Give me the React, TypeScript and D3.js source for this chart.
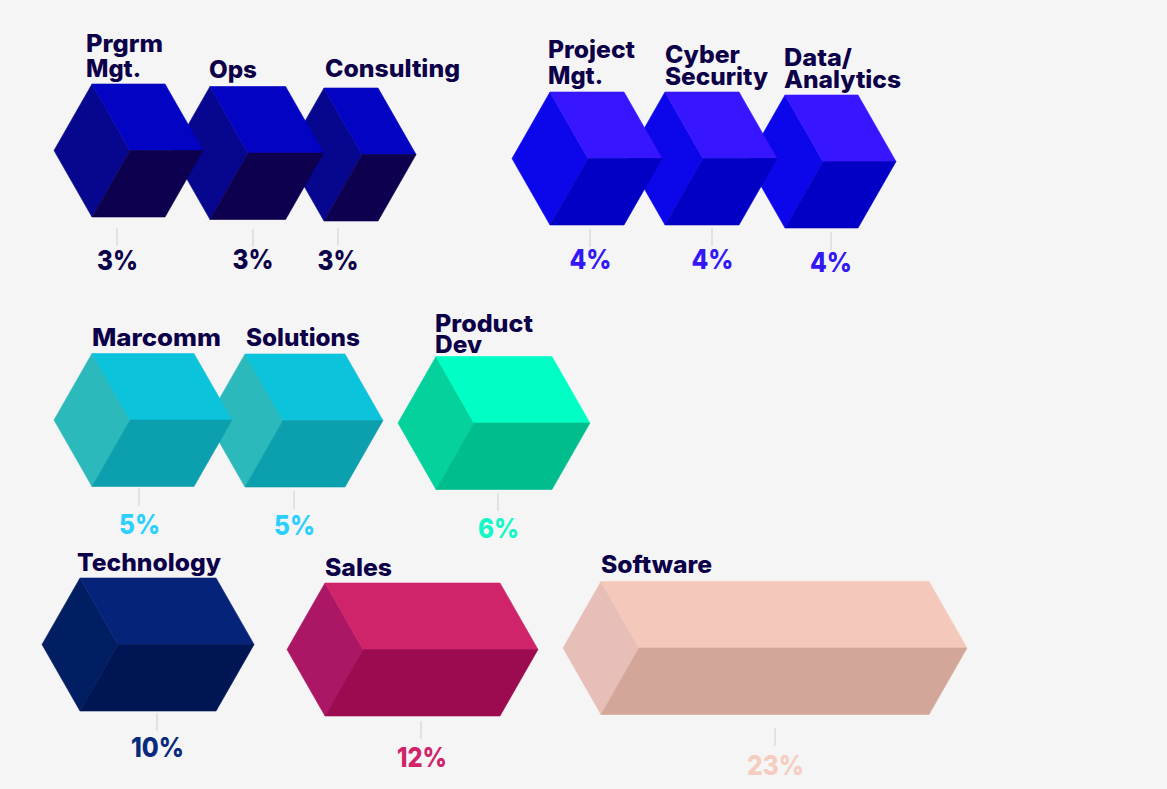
import React from "react";
import * as d3 from "d3";

// ---- data ----
const categories = ["Prgrm Mgt.", "Ops", "Consulting", "Project Mgt.", "Cyber Security", "Data/ Analytics", "Marcomm", "Solutions", "Product Dev", "Technology", "Sales", "Software"];
const labelLines = [["Prgrm", "Mgt."], ["Ops"], ["Consulting"], ["Project", "Mgt."], ["Cyber", "Security"], ["Data/", "Analytics"], ["Marcomm"], ["Solutions"], ["Product", "Dev"], ["Technology"], ["Sales"], ["Software"]];
const valueLabels = ["3%", "3%", "3%", "4%", "4%", "4%", "5%", "5%", "6%", "10%", "12%", "23%"];
// drawn length of each block, in the chart's value units
const blockLengths = [5.12, 5.3, 3.79, 5.19, 5.19, 5.12, 7.15, 7.01, 8.13, 9.54, 12.27, 23];

// ---- layout ----
const innerX = [130, 248, 362, 588, 703, 823, 130, 283, 474, 118, 363, 639];
const centerY = [150.5, 153, 154.5, 158.5, 158.5, 161.5, 420, 420.5, 423, 644.5, 649.5, 648];
const labelX = [86, 209, 325, 548, 665, 784, 92, 246, 435, 77, 325, 601];
const labelBaseY = [52, 78, 77, 58, 63, 66, 346, 346, 332, 571, 576, 573];
const lineGap = [25, 0, 0, 26, 22, 22, 0, 0, 21, 0, 0, 0];
const labelWidths = [[77, 55], [48], [135], [87, 55], [75, 103], [68, 117], [129], [114], [98, 47], [144], [67], [111]];
const valueX = [117.5, 253, 338, 590.5, 712.5, 831, 139.5, 294.5, 498.5, 157.5, 422, 775.5];
const valueY = [270, 269, 270, 269, 269, 272, 534, 535, 538, 757, 767, 775];
const valueWidths = [41, 41, 41, 42, 42, 42, 41, 41, 41, 53, 50, 57];
const tickX = [117, 253, 338, 590, 712, 831, 139, 294, 498, 157, 421, 775];
const tickTop = [228, 229, 228, 229, 228, 232, 488, 491, 493, 713, 721, 728];
const tickLen = 18;

// ---- palette ----
const leftColors = ["#06068f", "#06068f", "#06068f", "#0c06ea", "#0c06ea", "#0c06ea", "#2bb9bb", "#2bb9bb", "#04d19c", "#021e63", "#ab1665", "#e7bfb8"];
const topColors = ["#0303c4", "#0303c4", "#0303c4", "#3716ff", "#3716ff", "#3716ff", "#0bc3da", "#0bc3da", "#00ffc4", "#06237a", "#cf246a", "#f4c9bc"];
const bottomColors = ["#0c004f", "#0c004f", "#0c004f", "#0200c4", "#0200c4", "#0200c4", "#0ca0ae", "#0ca0ae", "#00bd8e", "#001654", "#9c0a50", "#d3a699"];
const valueColors = ["#0c0048", "#0c0048", "#0c0048", "#3318f5", "#3318f5", "#3318f5", "#2bd0ff", "#2bd0ff", "#14f7c7", "#082a7d", "#cf246a", "#f5cdc0"];
const NAVY = "#0c0048";
const FONT = "Inter, 'Open Sans', sans-serif";

const lengthScale = d3.scaleLinear().domain([0, 23]).range([0, 328]);
const DEPTH = 76;
const HALF_H = 66.5;
const poly = d3.line<[number, number]>().x((p) => p[0]).y((p) => p[1]);
const closed = (pts: [number, number][]) => (poly(pts) as string) + "Z";

export default function App() {
  const order = d3.range(categories.length).reverse();
  return (
    <svg width={1167} height={789} viewBox="0 0 1167 789" style={{ position: "fixed", left: 0, top: 0, background: "#f5f5f5" }}>
      <rect width={1167} height={789} fill="#f5f5f5" />
      {order.map((i) => {
        const x = innerX[i];
        const cy = centerY[i];
        const w = lengthScale(blockLengths[i]);
        const hd = DEPTH / 2;
        const t = cy - HALF_H;
        const b = cy + HALF_H;
        return (
          <g key={categories[i]} strokeWidth={0.6} strokeLinejoin="round">
            <path fill={leftColors[i]} stroke={leftColors[i]} d={closed([[x - DEPTH, cy], [x - hd, t], [x, cy], [x - hd, b]])} />
            <path fill={topColors[i]} stroke={topColors[i]} d={closed([[x - hd, t], [x - hd + w, t], [x + w, cy], [x, cy]])} />
            <path fill={bottomColors[i]} stroke={bottomColors[i]} d={closed([[x, cy], [x + w, cy], [x - hd + w, b], [x - hd, b]])} />
          </g>
        );
      })}
      {categories.map((c, i) => (
        <g key={c}>
          <line x1={tickX[i]} x2={tickX[i]} y1={tickTop[i]} y2={tickTop[i] + tickLen} stroke="#cfcfcf" strokeWidth={1} />
          <text x={valueX[i]} y={valueY[i]} textAnchor="middle" fontFamily={FONT} fontWeight={800} fontSize={27} fill={valueColors[i]} textLength={valueWidths[i]} lengthAdjust="spacingAndGlyphs">
            {valueLabels[i]}
          </text>
          {labelLines[i].map((ln, k) => (
            <text key={k} x={labelX[i]} y={labelBaseY[i] + k * lineGap[i]} fontFamily={FONT} fontWeight={800} fontSize={24} fill={NAVY} textLength={labelWidths[i][k]} lengthAdjust="spacingAndGlyphs">
              {ln}
            </text>
          ))}
        </g>
      ))}
    </svg>
  );
}
